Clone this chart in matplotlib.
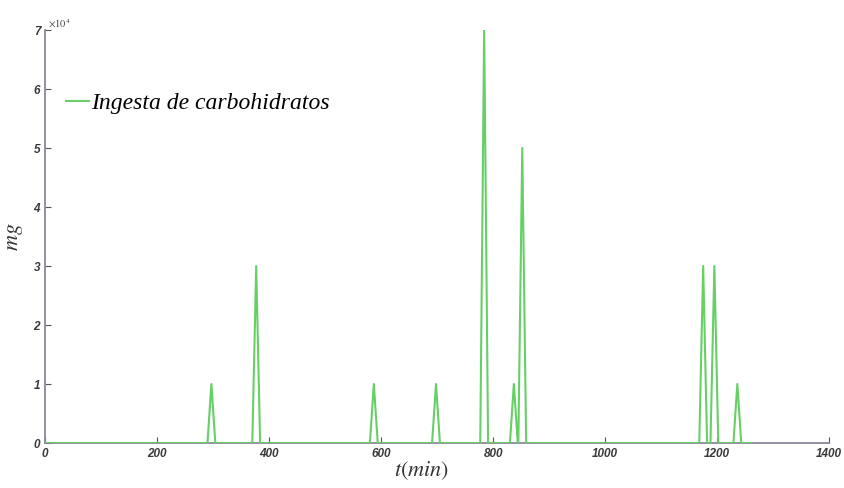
import matplotlib.pyplot as plt
import numpy as np

plt.rcParams['mathtext.fontset'] = 'stix'

# carbohydrate intake events: time (min) and amount (mg)
meal_times = [297, 377, 587, 698, 784, 837, 852, 1175, 1195, 1236]
meal_mg = [1e4, 3e4, 1e4, 1e4, 7e4, 1e4, 5e4, 3e4, 3e4, 1e4]
half_width = 7
t_end = 1259

# build the pulse train as a polyline
t = [0]
y = [0]
for tm, mg in zip(meal_times, meal_mg):
    t += [tm - half_width, tm, tm + half_width]
    y += [0, mg, 0]
t.append(t_end)
y.append(0)

fig = plt.figure(figsize=(8.45, 4.88), dpi=100)
ax = fig.add_axes([0.0533, 0.0922, 0.928, 0.8463])

ax.plot(t, y, color='#66d066', lw=1.5, label='Ingesta de carbohidratos', zorder=3)

ax.set_xlim(0, 1400)
ax.set_ylim(0, 7e4)
ax.set_xticks(np.arange(0, 1401, 200))
ax.set_yticks(np.arange(0, 7e4 + 1, 1e4))
ax.set_yticklabels([str(i) for i in range(8)])

gray = '#8a8a98'
for s in ['top', 'right']:
    ax.spines[s].set_visible(False)
for s in ['left', 'bottom']:
    ax.spines[s].set_color(gray)
    ax.spines[s].set_linewidth(1.3)
ax.tick_params(direction='in', length=4, color='#555555', labelcolor='#3a3a3a',
               labelsize=8.5)
for lab in ax.get_xticklabels() + ax.get_yticklabels():
    lab.set_fontstyle('italic')
    lab.set_family('Liberation Sans')
    lab.set_fontweight('semibold')

ax.text(0.004, 1.0, r'$\times10^4$', transform=ax.transAxes, fontsize=7.5,
        color='#444444', va='bottom', ha='left')

ax.set_xlabel(r'$t(min)$', fontsize=16, color='#333333', labelpad=0)
ax.set_ylabel(r'$mg$', fontsize=16, color='#333333', labelpad=6)
ax.xaxis.set_label_coords(0.48, -0.04, transform=ax.transAxes)
ax.xaxis.label.set_va('top')

leg = ax.legend(loc='upper left', bbox_to_anchor=(0.0, 0.90), frameon=False,
                handlelength=0.95, handletextpad=0.1,
                prop={'family': 'Liberation Serif', 'style': 'italic', 'size': 17})

fig.savefig('out.png', dpi=100)
